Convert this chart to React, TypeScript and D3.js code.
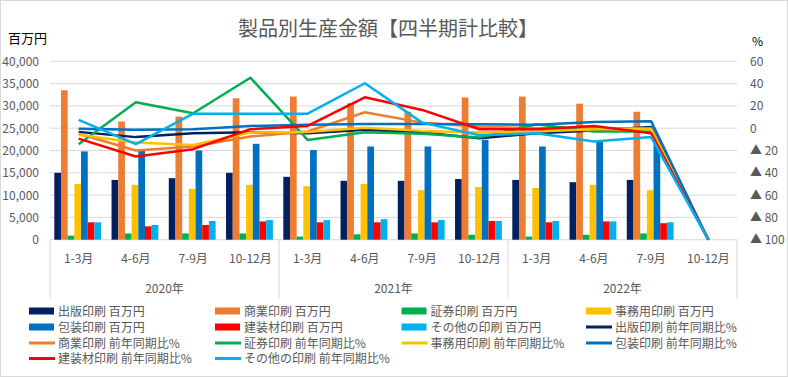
import React from "react";
import * as d3 from "d3";

const quarters = ["1-3月", "4-6月", "7-9月", "10-12月", "1-3月", "4-6月", "7-9月", "10-12月", "1-3月", "4-6月", "7-9月", "10-12月"];
const years = ["2020年", "2021年", "2022年"];
const leftTicks = [0, 5000, 10000, 15000, 20000, 25000, 30000, 35000, 40000];
const rightTicks = [60, 40, 20, 0, -20, -40, -60, -80, -100];

// 百万円 (bars)
const shuppanAmt = [15000, 13400, 13800, 15000, 14100, 13200, 13200, 13600, 13400, 12900, 13400, null];
const shogyoAmt = [33500, 26500, 27600, 31700, 32100, 30600, 28700, 31900, 32100, 30500, 28700, null];
const shokenAmt = [900, 1400, 1400, 1400, 700, 1200, 1400, 1100, 700, 1100, 1400, null];
const jimuAmt = [12500, 12300, 11400, 12300, 12000, 12500, 11100, 11800, 11600, 12300, 11100, null];
const hosoAmt = [19800, 20300, 20000, 21500, 20100, 20900, 20900, 22400, 20900, 22000, 21500, null];
const kensoAmt = [3900, 3000, 3300, 4100, 3900, 3900, 3900, 4200, 3900, 4100, 3700, null];
const sonotaAmt = [3900, 3300, 4200, 4400, 4400, 4600, 4400, 4200, 4200, 4100, 3900, null];

// 前年同期比% (lines)
const shuppanPct = [-3.3, -8, -4.5, -3.6, -4.5, -1.5, -3.9, -9, -4.5, -2, 1, -100];
const shogyoPct = [-5, -20, -16.4, -7.5, -3, 14.3, 5, 1.4, 0, 0, 0, -100];
const shokenPct = [-14.3, 23.3, 13.4, 45.3, -10.5, -3.6, -5, -8.4, 3.6, -3, -3, -100];
const jimuPct = [-5.8, -12.9, -15, -3.9, -3.3, 0.5, -2.4, -3.9, -3, -1, -1, -100];
const hosoPct = [-0.6, -1.5, -0.9, 2, 3, 3.8, 3.8, 3.6, 3, 5.6, 6.3, -100];
const kensoPct = [-9.3, -25.4, -18.8, -0.9, 2, 27.7, 16.4, -0.9, -0.9, 2, -4.5, -100];
const sonotaPct = [7.4, -14.3, 13, 13, 13, 40.3, 5, -6.3, -4.5, -12, -8, -100];

const names = ["出版印刷", "商業印刷", "証券印刷", "事務用印刷", "包装印刷", "建装材印刷", "その他の印刷"];
const colors = ["#002060", "#ED7D31", "#00B050", "#FFC000", "#0070C0", "#FF0000", "#00B0F0"];
const amtSeries = [shuppanAmt, shogyoAmt, shokenAmt, jimuAmt, hosoAmt, kensoAmt, sonotaAmt];
const pctSeries = [shuppanPct, shogyoPct, shokenPct, jimuPct, hosoPct, kensoPct, sonotaPct];

const W = 788;
const H = 377;
const PL = 50;
const PR = 737;
const PT = 61.3;
const PB = 239.7;
const FONT = "'Noto Sans CJK JP', 'Noto Sans', sans-serif";
const TXT = "#595959";

export default function App() {
  const x0 = d3.scaleBand<number>().domain(d3.range(quarters.length)).range([PL, PR]).padding(0);
  const bw = x0.bandwidth();
  const xi = d3.scaleBand<number>().domain(d3.range(names.length)).range([bw * 0.075, bw * 0.893]).padding(0);
  const yL = d3.scaleLinear().domain([0, 40000]).range([PB, PT]);
  const yR = d3.scaleLinear().domain([-100, 60]).range([PB, PT]);
  const fmt = d3.format(",");
  const line = d3
    .line<number>()
    .x((_, i) => (x0(i) as number) + bw / 2)
    .y((d) => yR(d));

  const legendItems: { label: string; color: string; kind: "bar" | "line" }[] = [];
  names.forEach((n, i) => legendItems.push({ label: `${n} 百万円`, color: colors[i], kind: "bar" }));
  names.forEach((n, i) => legendItems.push({ label: `${n} 前年同期比%`, color: colors[i], kind: "line" }));
  const legCols = [29, 215, 401.5, 586];
  const legRows = [311, 327, 343, 358.5];

  const groupEdges = [0, 4, 8, 12].map((i) => (i < 12 ? (x0(i) as number) : PR));

  return (
    <svg
      width={W}
      height={H}
      style={{ position: "absolute", left: 0, top: 0, background: "#fff" }}
      fontFamily={FONT}
    >
      <rect x={0.5} y={0.5} width={W - 1} height={H - 1} fill="#fff" stroke="#d9d9d9" />
      <text x={388} y={36} textAnchor="middle" fontSize={20} fill={TXT}>
        製品別生産金額【四半期計比較】
      </text>
      <text x={8} y={43} fontSize={13} fill="#000">百万円</text>
      <text x={752} y={46} fontSize={12} fill="#000">%</text>

      {leftTicks.map((t) => (
        <g key={t}>
          <line x1={PL} x2={PR} y1={yL(t)} y2={yL(t)} stroke="#d9d9d9" strokeWidth={1} />
          <text x={39} y={yL(t) + 4.5} textAnchor="end" fontSize={12} fill={TXT}>
            {fmt(t)}
          </text>
        </g>
      ))}
      {rightTicks.map((t) => (
        <text key={t} x={750} y={yR(t) + 4.5} fontSize={12} fill={TXT}>
          {t < 0 ? `▲ ${-t}` : `${t}`}
        </text>
      ))}

      {amtSeries.map((s, si) =>
        s.map((v, ci) =>
          v == null ? null : (
            <rect
              key={`${si}-${ci}`}
              x={(x0(ci) as number) + (xi(si) as number)}
              y={yL(v)}
              width={xi.bandwidth()}
              height={yL(0) - yL(v)}
              fill={colors[si]}
            />
          )
        )
      )}

      {pctSeries.map((s, si) => (
        <path
          key={si}
          d={line(s) as string}
          fill="none"
          stroke={colors[si]}
          strokeWidth={2.5}
          strokeLinejoin="round"
        />
      ))}

      {/* category axis */}
      {groupEdges.map((gx, i) => (
        <line key={i} x1={gx} x2={gx} y1={PB} y2={299} stroke="#d9d9d9" />
      ))}
      {quarters.map((q, i) => (
        <text key={i} x={(x0(i) as number) + bw / 2} y={263} textAnchor="middle" fontSize={12} fill={TXT}>
          {q}
        </text>
      ))}
      {years.map((yv, i) => (
        <text key={yv} x={(groupEdges[i] + groupEdges[i + 1]) / 2} y={292.5} textAnchor="middle" fontSize={12} fill={TXT}>
          {yv}
        </text>
      ))}

      {legendItems.map((it, i) => {
        const cx = legCols[i % 4];
        const cy = legRows[Math.floor(i / 4)];
        return (
          <g key={i}>
            {it.kind === "bar" ? (
              <rect x={cx} y={cy - 3.5} width={25} height={7} fill={it.color} />
            ) : (
              <line x1={cx} x2={cx + 26} y1={cy} y2={cy} stroke={it.color} strokeWidth={3} />
            )}
            <text x={cx + 29} y={cy + 4.5} fontSize={12} fill={TXT}>
              {it.label}
            </text>
          </g>
        );
      })}
    </svg>
  );
}
